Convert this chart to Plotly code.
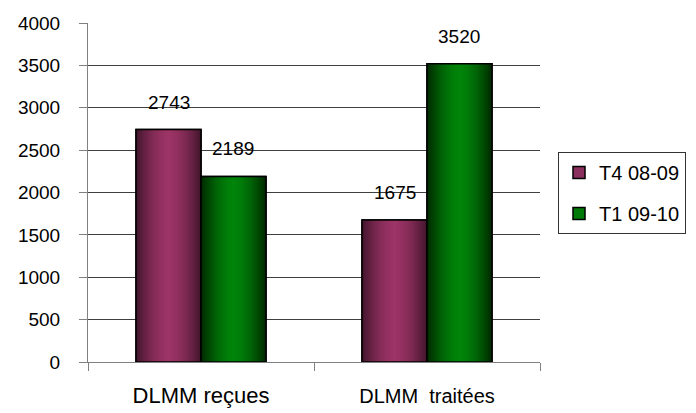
import plotly.graph_objects as go

categories = ["DLMM reçues", "DLMM  traitées"]
series_names = ["T4 08-09", "T1 09-10"]
t4_values = [2743, 1675]
t1_values = [2189, 3520]
y_tick_values = [0, 500, 1000, 1500, 2000, 2500, 3000, 3500, 4000]

FONT = "Arial, 'Liberation Sans', sans-serif"
BAR_W = 0.2875
N_LAYERS = 16

series = [
    dict(name=series_names[0], values=t4_values, center=-BAR_W / 2,
         dark=(0x42, 0x15, 0x2c), light=(0x9c, 0x34, 0x66), mid="#8a2f5e"),
    dict(name=series_names[1], values=t1_values, center=BAR_W / 2,
         dark=(0x00, 0x28, 0x00), light=(0x00, 0x84, 0x0a), mid="#007a08"),
]


def mix(a, b, t):
    return "rgb(%d,%d,%d)" % tuple(round(a[i] + (b[i] - a[i]) * t) for i in range(3))


fig = go.Figure()
for s in series:
    n = len(categories)
    fig.add_bar(x=categories, y=s["values"], width=[BAR_W] * n,
                offset=[s["center"] - BAR_W / 2] * n,
                marker=dict(color=s["mid"], line=dict(color="black", width=1.5)),
                name=s["name"], legendgroup=s["name"], showlegend=True)
    for k in range(N_LAYERS):
        frac = 1 - k / N_LAYERS
        dmid = 1 - (k + 0.5) / N_LAYERS
        col = mix(s["light"], s["dark"], dmid ** 1.6)
        w = BAR_W * frac
        fig.add_bar(x=categories, y=s["values"], width=[w] * n,
                    offset=[s["center"] - w / 2] * n,
                    marker=dict(color=col, line=dict(width=0)),
                    name=s["name"], legendgroup=s["name"], showlegend=False,
                    hoverinfo="skip")
    fig.add_bar(x=categories, y=s["values"], width=[BAR_W] * n,
                offset=[s["center"] - BAR_W / 2] * n,
                marker=dict(color="rgba(0,0,0,0)", line=dict(color="black", width=1.5)),
                name=s["name"], legendgroup=s["name"], showlegend=False,
                hoverinfo="skip")
    for i, v in enumerate(s["values"]):
        fig.add_annotation(x=i + s["center"], y=v, text=str(v), showarrow=False,
                           yanchor="bottom", yshift=15,
                           font=dict(family=FONT, size=19, color="black"))

tick_text = [
    '<span style="font-size:22px">%s</span>' % categories[0],
    '<span style="font-size:20px">%s</span>' % categories[1].replace("  ", "\u00a0 "),
]

fig.update_layout(
    width=696, height=413,
    margin=dict(l=88, r=156, t=23, b=51, autoexpand=False),
    paper_bgcolor="white", plot_bgcolor="white",
    barmode="overlay",
    font=dict(family=FONT, size=19, color="black"),
    showlegend=True,
    legend=dict(xref="container", yref="container", x=558 / 696, y=1 - 152 / 413,
                xanchor="left", yanchor="top",
                bordercolor="#333333", borderwidth=1, bgcolor="white",
                traceorder="grouped", tracegroupgap=12, entrywidth=150,
                font=dict(family=FONT, size=20, color="black")),
    xaxis=dict(type="category", range=[-0.5, 1.5], tickvals=categories, ticktext=tick_text,
               showline=True, linecolor="#808080", linewidth=1, automargin=False,
               ticks="outside", tickson="boundaries", ticklen=8, tickcolor="#808080",
               ticklabelstandoff=15, showgrid=False, zeroline=False,
               tickfont=dict(family=FONT, size=21, color="black")),
    yaxis=dict(range=[0, 4000], tickvals=y_tick_values, showline=True, linecolor="#808080",
               linewidth=1, ticks="outside", ticklen=8, tickcolor="#808080",
               showgrid=True, gridcolor="#404040", gridwidth=1, zeroline=False,
               ticklabelstandoff=15, automargin=False,
               tickfont=dict(family=FONT, size=19, color="black")),
)

fig.write_html("out.html", config={"displayModeBar": False},
               post_script="document.body.style.margin='0';")
